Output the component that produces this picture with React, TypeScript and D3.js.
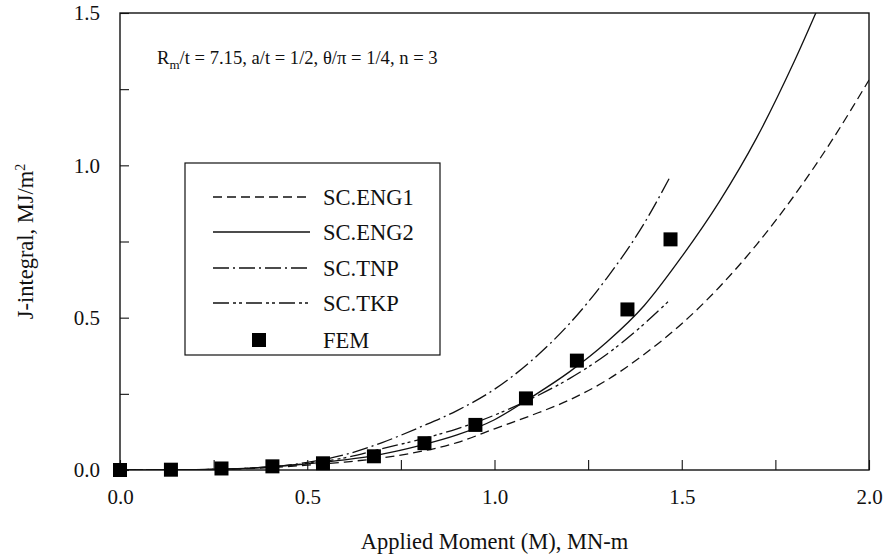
import React, { useRef, useEffect } from 'react';
import * as d3 from 'd3';

// values
const femM = [0, 0.136, 0.271, 0.407, 0.542, 0.678, 0.813, 0.949, 1.084, 1.22, 1.355, 1.47];
const femJ = [0, 0.001, 0.005, 0.012, 0.022, 0.045, 0.088, 0.148, 0.235, 0.359, 0.527, 0.757];

const eng1M = [0, 0.2, 0.4, 0.5, 0.6, 0.75, 0.9, 1.0, 1.1, 1.2, 1.3, 1.4, 1.5, 1.6, 1.7, 1.8, 1.9, 2.0];
const eng1J = [0, 0.001, 0.008, 0.016, 0.026, 0.049, 0.09, 0.135, 0.18, 0.23, 0.295, 0.38, 0.48, 0.6, 0.74, 0.9, 1.08, 1.28];

const eng2M = [0, 0.2, 0.4, 0.5, 0.6, 0.7, 0.8, 0.9, 1.0, 1.1, 1.2, 1.3, 1.4, 1.5, 1.6, 1.7, 1.8, 1.9];
const eng2J = [0, 0.001, 0.01, 0.02, 0.033, 0.052, 0.08, 0.115, 0.165, 0.24, 0.322, 0.42, 0.54, 0.7, 0.88, 1.09, 1.34, 1.62];

const tnpM = [0, 0.2, 0.4, 0.5, 0.6, 0.7, 0.8, 0.9, 1.0, 1.1, 1.2, 1.3, 1.4, 1.47];
const tnpJ = [0, 0.001, 0.01, 0.025, 0.05, 0.09, 0.14, 0.195, 0.265, 0.36, 0.48, 0.63, 0.81, 0.965];

const tkpM = [0, 0.2, 0.4, 0.5, 0.6, 0.7, 0.8, 0.9, 1.0, 1.1, 1.2, 1.3, 1.4, 1.47];
const tkpJ = [0, 0.001, 0.01, 0.022, 0.04, 0.07, 0.1, 0.135, 0.18, 0.235, 0.3, 0.38, 0.48, 0.56];

const xTicks = [0, 0.25, 0.5, 0.75, 1.0, 1.25, 1.5, 1.75, 2.0];
const yTicks = [0, 0.25, 0.5, 0.75, 1.0, 1.25, 1.5];

const series = [
  { name: 'SC.ENG1', m: eng1M, j: eng1J, dash: '9,5' },
  { name: 'SC.ENG2', m: eng2M, j: eng2J, dash: null },
  { name: 'SC.TNP', m: tnpM, j: tnpJ, dash: '16,4,2,4' },
  { name: 'SC.TKP', m: tkpM, j: tkpJ, dash: '16,4,3,3,3,4' },
];

const serif = '"Liberation Serif", "Times New Roman", serif';

const App = () => {
  const ref = useRef<SVGSVGElement | null>(null);

  useEffect(() => {
    if (!ref.current) return;
    const svg = d3.select(ref.current);
    svg.selectAll('*').remove();

    const left = 120, right = 869, top = 13, bottom = 470;
    const x = d3.scaleLinear().domain([0, 2]).range([left, right]);
    const y = d3.scaleLinear().domain([0, 1.5]).range([bottom, top]);
    const fmt = (d: number) => (Math.abs((d * 2) % 1) < 1e-9 ? d.toFixed(1) : '');

    svg.append('defs').append('clipPath').attr('id', 'plotclip')
      .append('rect').attr('x', left).attr('y', top)
      .attr('width', right - left).attr('height', bottom - top);

    // axes with inward ticks
    const gx = svg.append('g').attr('transform', `translate(0,${bottom})`)
      .call(d3.axisBottom(x).tickValues(xTicks).tickSizeInner(-10).tickSizeOuter(0)
        .tickPadding(19).tickFormat(fmt as any));
    const gy = svg.append('g').attr('transform', `translate(${left},0)`)
      .call(d3.axisLeft(y).tickValues(yTicks).tickSizeInner(-9).tickSizeOuter(0)
        .tickPadding(20).tickFormat(fmt as any));
    [gx, gy].forEach(g => {
      g.select('.domain').remove();
      g.selectAll('line').attr('stroke', '#111').attr('stroke-width', 1.1);
      g.selectAll('text').attr('font-family', serif).attr('font-size', 21).attr('fill', '#111');
    });

    svg.append('rect').attr('x', left).attr('y', top)
      .attr('width', right - left).attr('height', bottom - top)
      .attr('fill', 'none').attr('stroke', '#111').attr('stroke-width', 1.4);

    // curves
    const line = d3.line<[number, number]>()
      .x(d => x(d[0])).y(d => y(d[1])).curve(d3.curveMonotoneX);
    const plot = svg.append('g').attr('clip-path', 'url(#plotclip)');
    series.forEach(s => {
      const pts = s.m.map((m, i) => [m, s.j[i]] as [number, number]);
      plot.append('path').attr('d', line(pts))
        .attr('fill', 'none').attr('stroke', '#111').attr('stroke-width', 1.3)
        .attr('stroke-dasharray', s.dash);
    });

    svg.append('g').selectAll('rect')
      .data(femM.map((m, i) => [m, femJ[i]]))
      .join('rect')
      .attr('x', d => x(d[0]) - 7).attr('y', d => y(d[1]) - 7)
      .attr('width', 14).attr('height', 14).attr('fill', '#000');

    // annotation
    const ann = svg.append('text').attr('x', 157).attr('y', 64)
      .attr('font-family', serif).attr('font-size', 18.6).attr('fill', '#111');
    ann.append('tspan').text('R');
    ann.append('tspan').attr('font-size', 13).attr('dy', 5).text('m');
    ann.append('tspan').attr('dy', -5).text('/t = 7.15, a/t = 1/2, θ/π = 1/4, n = 3');

    // legend
    const lg = svg.append('g');
    lg.append('rect').attr('x', 185).attr('y', 163).attr('width', 255).attr('height', 192)
      .attr('fill', '#fff').attr('stroke', '#111').attr('stroke-width', 1.2);
    const rowY = [197, 232, 268, 303, 340];
    series.forEach((s, i) => {
      lg.append('line').attr('x1', 213).attr('x2', 310).attr('y1', rowY[i]).attr('y2', rowY[i])
        .attr('stroke', '#111').attr('stroke-width', 1.3).attr('stroke-dasharray', s.dash);
      lg.append('text').attr('x', 323).attr('y', rowY[i] + 8).text(s.name)
        .attr('font-family', serif).attr('font-size', 22.5).attr('fill', '#111');
    });
    lg.append('rect').attr('x', 252).attr('y', rowY[4] - 7).attr('width', 14).attr('height', 14)
      .attr('fill', '#000');
    lg.append('text').attr('x', 323).attr('y', rowY[4] + 8).text('FEM')
      .attr('font-family', serif).attr('font-size', 22.5).attr('fill', '#111');

    // axis titles
    svg.append('text').attr('x', (left + right) / 2).attr('y', 549).attr('text-anchor', 'middle')
      .attr('font-family', serif).attr('font-size', 22.5).attr('fill', '#111')
      .text('Applied Moment (M), MN-m');
    const yl = svg.append('text').attr('transform', `translate(33,${(top + bottom) / 2}) rotate(-90)`)
      .attr('text-anchor', 'middle').attr('font-family', serif).attr('font-size', 22.5).attr('fill', '#111');
    yl.append('tspan').text('J-integral, MJ/m');
    yl.append('tspan').attr('font-size', 14).attr('dy', -8).text('2');
  }, []);

  return (
    <svg ref={ref} width={887} height={558}
      style={{ position: 'absolute', left: 0, top: 0, background: '#fff' }} />
  );
};

export default App;
